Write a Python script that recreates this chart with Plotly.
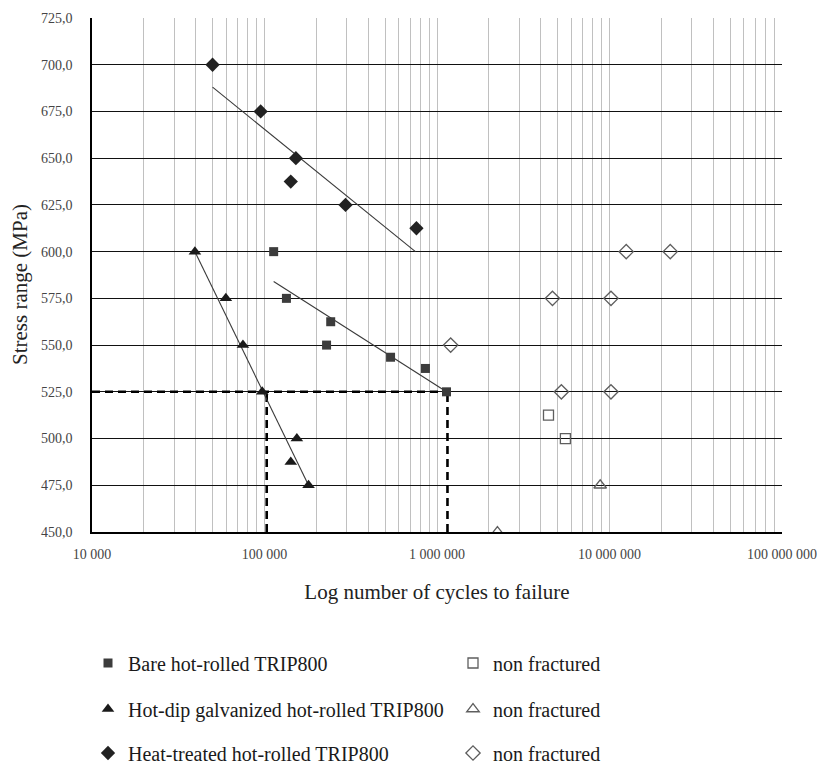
import plotly.graph_objects as go

# ---------------- data ----------------
bare_n = [113000, 134000, 242000, 229000, 538000, 857000, 1135000]
bare_s = [600, 575, 562.5, 550, 543.5, 537.5, 525]
bare_fit_n = [113000, 1135000]
bare_fit_s = [584, 525]

galv_n = [39500, 59700, 75000, 97000, 154000, 142000, 180000]
galv_s = [600, 575, 550, 525, 500, 487.5, 475]
galv_fit_n = [39500, 180000]
galv_fit_s = [600, 475]

heat_n = [50000, 95000, 152000, 142000, 295000, 760000]
heat_s = [700, 675, 650, 637.5, 625, 612.5]
heat_fit_n = [50000, 750000]
heat_fit_s = [688, 600]

bare_nf_n = [4430000, 5550000]
bare_nf_s = [512.5, 500]
galv_nf_n = [8830000, 2240000]
galv_nf_s = [475, 450]
heat_nf_n = [1200000, 12500000, 22500000, 4670000, 10200000, 5260000, 10200000]
heat_nf_s = [550, 600, 600, 575, 575, 525, 525]

# dashed reference lines (N at 525 MPa)
ref_h_n = [10000, 1250000]
ref_h_s = [525, 525]
ref_v1_n = [103000, 103000]
ref_v2_n = [1150000, 1150000]
ref_v_s = [450, 525]

y_ticks = [450, 475, 500, 525, 550, 575, 600, 625, 650, 675, 700, 725]
y_labels = ["450,0", "475,0", "500,0", "525,0", "550,0", "575,0", "600,0",
            "625,0", "650,0", "675,0", "700,0", "725,0"]
x_decades = [10000, 100000, 1000000, 10000000, 100000000]
x_decade_labels = ["10 000", "100 000", "1 000 000", "10 000 000", "100 000 000"]

# --------------- figure ---------------
FONT = "Liberation Serif, Times New Roman, serif"
HOLLOW = "#5e5e5e"

x_tickvals, x_ticktext = [], []
for d, lab in zip(x_decades[:-1], x_decade_labels[:-1]):
    for k in range(1, 10):
        x_tickvals.append(d * k)
        x_ticktext.append(lab if k == 1 else "")
x_tickvals.append(x_decades[-1])
x_ticktext.append(x_decade_labels[-1])

fig = go.Figure()

# dashed helper lines
for xs, ys in [(ref_h_n, ref_h_s), (ref_v1_n, ref_v_s), (ref_v2_n, ref_v_s)]:
    fig.add_trace(go.Scatter(x=xs, y=ys, mode="lines", showlegend=False,
                             line=dict(color="#000000", width=2.6, dash="8px,5px"),
                             hoverinfo="skip"))

# trend lines
for xs, ys in [(bare_fit_n, bare_fit_s), (galv_fit_n, galv_fit_s), (heat_fit_n, heat_fit_s)]:
    fig.add_trace(go.Scatter(x=xs, y=ys, mode="lines", showlegend=False,
                             line=dict(color="#3a3a3a", width=1.1), hoverinfo="skip"))

fig.add_trace(go.Scatter(x=bare_n, y=bare_s, mode="markers", name="Bare hot-rolled TRIP800",
                         marker=dict(symbol="square", size=9, color="#3c3c3c"), legend="legend"))
fig.add_trace(go.Scatter(x=bare_nf_n, y=bare_nf_s, mode="markers", name="non fractured",
                         marker=dict(symbol="square-open", size=10, color=HOLLOW, line=dict(width=1.3)),
                         legend="legend"))
fig.add_trace(go.Scatter(x=galv_n, y=galv_s, mode="markers", name="Hot-dip galvanized hot-rolled TRIP800",
                         marker=dict(symbol="triangle-up", size=11, color="#1a1a1a"), legend="legend2"))
fig.add_trace(go.Scatter(x=galv_nf_n, y=galv_nf_s, mode="markers", name="non fractured",
                         marker=dict(symbol="triangle-up-open", size=11, color=HOLLOW, line=dict(width=1.3)),
                         legend="legend2"))
fig.add_trace(go.Scatter(x=heat_n, y=heat_s, mode="markers", name="Heat-treated hot-rolled TRIP800",
                         marker=dict(symbol="diamond", size=11, color="#222222"), legend="legend3"))
fig.add_trace(go.Scatter(x=heat_nf_n, y=heat_nf_s, mode="markers", name="non fractured",
                         marker=dict(symbol="diamond-open", size=11, color=HOLLOW, line=dict(width=1.3)),
                         legend="legend3"))

# page body adds an 8px offset, so the figure is 8px smaller than the window
W, H = 817, 759
L, T, PW, PH = 84, 10, 690, 514
R, B = W - L - PW, H - T - PH
plot_bottom = T + PH


def px_x(px):
    return (px - L) / PW


def px_y(py):
    return (plot_bottom - py) / PH


legend_common = dict(orientation="h", xanchor="left", yanchor="middle",
                     x=px_x(80), entrywidth=320, entrywidthmode="pixels",
                     font=dict(family=FONT, size=20, color="#1a1a1a"),
                     bgcolor="rgba(0,0,0,0)", itemwidth=30, traceorder="normal")

fig.update_layout(
    width=W, height=H,
    margin=dict(l=L, r=R, t=T, b=B, autoexpand=False),
    paper_bgcolor="white", plot_bgcolor="white",
    font=dict(family=FONT, color="#333333"),
    legend=dict(legend_common, y=px_y(655)),
    legend2=dict(legend_common, y=px_y(701)),
    legend3=dict(legend_common, y=px_y(745)),
    xaxis=dict(
        type="log", range=[4, 8], automargin=False,
        tickmode="array", tickvals=x_tickvals, ticktext=x_ticktext,
        showgrid=True, gridcolor="#c0c0c0", gridwidth=1,
        showline=True, linecolor="#000000", linewidth=1.5,
        ticks="", tickfont=dict(family=FONT, size=14, color="#444444"),
        ticklabelstandoff=8,
        title=dict(text="Log number of cycles to failure",
                   font=dict(family=FONT, size=21, color="#222222"), standoff=24),
        zeroline=False,
    ),
    yaxis=dict(
        range=[450, 725], automargin=False,
        tickmode="array", tickvals=y_ticks, ticktext=y_labels,
        showgrid=True, gridcolor="#111111", gridwidth=1.4,
        showline=True, linecolor="#000000", linewidth=1.5,
        ticks="", tickfont=dict(family=FONT, size=14, color="#444444"),
        ticklabelstandoff=15,
        zeroline=False,
    ),
    annotations=[dict(text="Stress range (MPa)", textangle=-90, showarrow=False,
                      xref="paper", yref="paper", x=px_x(12), y=px_y(277),
                      xanchor="center", yanchor="middle",
                      font=dict(family=FONT, size=21, color="#222222"))],
)

fig.write_html("out.html")
